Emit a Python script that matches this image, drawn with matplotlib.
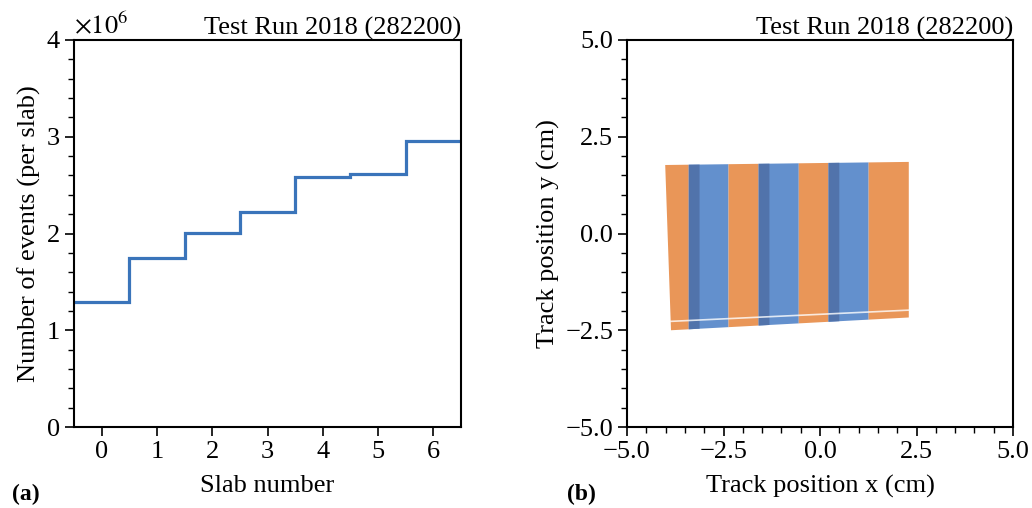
import numpy as np
import matplotlib
matplotlib.use("Agg")
import matplotlib.pyplot as plt
from matplotlib.ticker import MultipleLocator, AutoMinorLocator, FuncFormatter

plt.rcParams['font.family'] = ['Liberation Serif', 'DejaVu Serif']
plt.rcParams['mathtext.fontset'] = 'stix'

# (a) events per slab
slabs = [0, 1, 2, 3, 4, 5, 6]
events = [1.29e6, 1.75e6, 2.01e6, 2.22e6, 2.58e6, 2.62e6, 2.96e6]
slab_edges = [-0.5, 0.5, 1.5, 2.5, 3.5, 4.5, 5.5, 6.5]

# (b) track positions: slab boundaries in x (cm) and envelope in y (cm)
band_x = [-4.01, -3.40, -2.37, -1.59, -0.55, 0.22, 1.26, 2.30]
band_x_bottom_left = -3.86
top_line = [(-4.01, 1.77), (2.30, 1.85)]
bottom_line = [(-3.86, -2.50), (2.30, -2.17)]
gap_line = [(-3.86, -2.27), (2.30, -1.98)]
overlap_x = [(-3.40, -3.12), (-1.59, -1.31), (0.22, 0.50)]
band_colors = ['#E8904F', '#5B8ACB'] * 4

title = 'Test Run 2018 (282200)'
fs = 19

fig = plt.figure(figsize=(10.32, 5.08), dpi=100)
ax1 = fig.add_axes([74/1032, 1-427/508, 387/1032, 387/508])
ax2 = fig.add_axes([627/1032, 1-427/508, 386/1032, 387/508])

# left panel
ax1.stairs(events, slab_edges, baseline=None, color='#3A74BA', lw=2.3)
ax1.set_xlim(-0.5, 6.5)
ax1.set_ylim(0, 4e6)
ax1.set_xticks(slabs)
ax1.yaxis.set_major_locator(MultipleLocator(1e6))
ax1.yaxis.set_minor_locator(AutoMinorLocator(5))
ax1.yaxis.set_major_formatter(FuncFormatter(lambda v, p: f'{v / 1e6:.0f}'))
ax1.text(0.0, 1.003, r'$\times10^6$', transform=ax1.transAxes, fontsize=fs,
         ha='left', va='bottom')
ax1.set_xlabel('Slab number', fontsize=fs, labelpad=9)
ax1.set_ylabel('Number of events (per slab)', fontsize=fs)
ax1.set_title(title, loc='right', fontsize=fs, pad=3)
fig.text(12/1032, 1-494/508, '(a)', fontsize=17, fontweight='bold', va='center')


def yline(line, x):
    (x0, y0), (x1, y1) = line
    return y0 + (y1 - y0) * (x - x0) / (x1 - x0)


# right panel: slab bands
for i in range(len(band_x) - 1):
    xl, xr = band_x[i], band_x[i + 1]
    xbl = band_x_bottom_left if i == 0 else xl
    xs = [xl, xr, xr, xbl]
    ys = [yline(top_line, xl), yline(top_line, xr),
          yline(bottom_line, xr), yline(bottom_line, xbl)]
    ax2.fill(xs, ys, color=band_colors[i], lw=0, alpha=0.95)
for xl, xr in overlap_x:
    xs = [xl, xr, xr, xl]
    ys = [yline(top_line, xl), yline(top_line, xr),
          yline(bottom_line, xr), yline(bottom_line, xl)]
    ax2.fill(xs, ys, color='#5070A8', lw=0, alpha=0.9)
gx = [gap_line[0][0], gap_line[1][0]]
gy = [gap_line[0][1], gap_line[1][1]]
ax2.plot(gx, gy, color='white', lw=1.2, alpha=0.8)

ax2.set_xlim(-5, 5)
ax2.set_ylim(-5, 5)
ax2.xaxis.set_major_locator(MultipleLocator(2.5))
ax2.yaxis.set_major_locator(MultipleLocator(2.5))
ax2.xaxis.set_minor_locator(AutoMinorLocator(5))
ax2.yaxis.set_minor_locator(AutoMinorLocator(5))
fmt = FuncFormatter(lambda v, p: f'{v:.1f}'.replace('-', '\u2212'))
ax2.xaxis.set_major_formatter(fmt)
ax2.yaxis.set_major_formatter(fmt)
ax2.set_xlabel('Track position x (cm)', fontsize=fs, labelpad=9)
ax2.set_ylabel('Track position y (cm)', fontsize=fs)
ax2.set_title(title, loc='right', fontsize=fs, pad=3)
fig.text(567/1032, 1-494/508, '(b)', fontsize=17, fontweight='bold', va='center')

for ax in (ax1, ax2):
    ax.tick_params(which='major', direction='out', length=6.5, width=1.2, labelsize=fs)
    ax.tick_params(which='minor', direction='out', length=4, width=1.0)
    for s in ax.spines.values():
        s.set_linewidth(1.5)

fig.savefig('out.png', dpi=100)
